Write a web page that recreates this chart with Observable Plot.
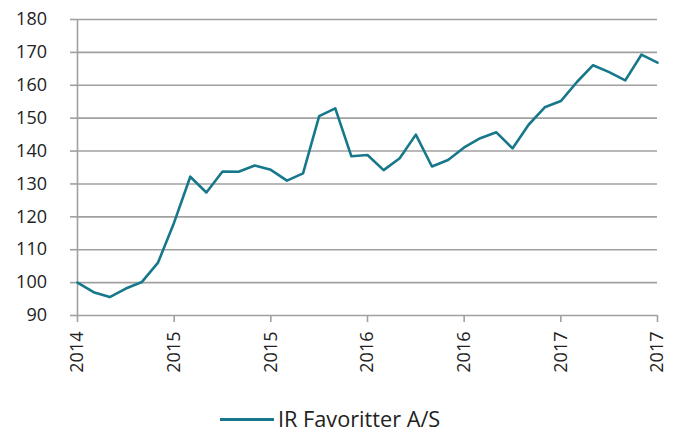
<!DOCTYPE html>
<html>
<head>
<meta charset="utf-8">
<script src="https://cdn.jsdelivr.net/npm/d3@7"></script>
<script src="https://cdn.jsdelivr.net/npm/@observablehq/plot@0.6"></script>
<style>
  body { margin: 0; background: #fff; }
  #wrap { position: relative; width: 676px; height: 432px; font-family: "Open Sans", sans-serif; }
  #legend { position: absolute; left: 220px; top: 405px; display: flex; align-items: center; color: #222; font-size: 21.7px; line-height: 28px; }
  #legend .sw { width: 54px; height: 3px; background: #17788b; margin-right: 4px; }
</style>
</head>
<body>
<div id="wrap"><div id="chart"></div><div id="legend"><span class="sw"></span><span>IR Favoritter A/S</span></div></div>
<script>
const seriesName = "IR Favoritter A/S";
const xTickLabels = ["2014", "2015", "2015", "2016", "2016", "2017", "2017"];
const yTicks = [90, 100, 110, 120, 130, 140, 150, 160, 170, 180];
const values = [
  100.0, 97.1, 95.6, 98.2, 100.2, 106.1, 118.3, 132.2, 127.4, 133.8,
  133.7, 135.6, 134.3, 131.0, 133.2, 150.6, 153.0, 138.4, 138.8, 134.2,
  137.8, 145.0, 135.3, 137.3, 141.1, 143.9, 145.7, 140.8, 148.0, 153.3,
  155.2, 161.0, 166.1, 164.0, 161.5, 169.3, 166.9
];
const data = values.map((v, i) => ({ i, v }));
const xTicks = xTickLabels.map((_, k) => k * 6);
const grid = "#a0a0a0";

const chart = Plot.plot({
  width: 676,
  height: 390,
  marginLeft: 77,
  marginRight: 19,
  marginTop: 19,
  marginBottom: 75,
  style: { fontFamily: "Open Sans", fontSize: "18px", color: "#222", background: "#fff", overflow: "visible" },
  x: { domain: [0, 36], label: null },
  y: { domain: [90, 180], label: null },
  marks: [
    Plot.ruleY(yTicks, { stroke: grid, strokeWidth: 1.6 }),
    Plot.ruleX([0], { stroke: grid, strokeWidth: 1.6 }),
    Plot.axisY({ ticks: yTicks, label: null, tickSize: 7, tickPadding: 23.5, stroke: grid, strokeWidth: 1.6, fill: "#222", fontSize: 18 }),
    Plot.axisX({ ticks: xTicks, label: null, tickFormat: (d) => xTickLabels[d / 6], tickRotate: -90, tickSize: 7, tickPadding: 9, stroke: grid, strokeWidth: 1.6, fill: "#222", fontSize: 18 }),
    Plot.line(data, { x: "i", y: "v", stroke: "#17788b", strokeWidth: 2.6 })
  ]
});
document.getElementById("chart").appendChild(chart);
</script>
</body>
</html>
